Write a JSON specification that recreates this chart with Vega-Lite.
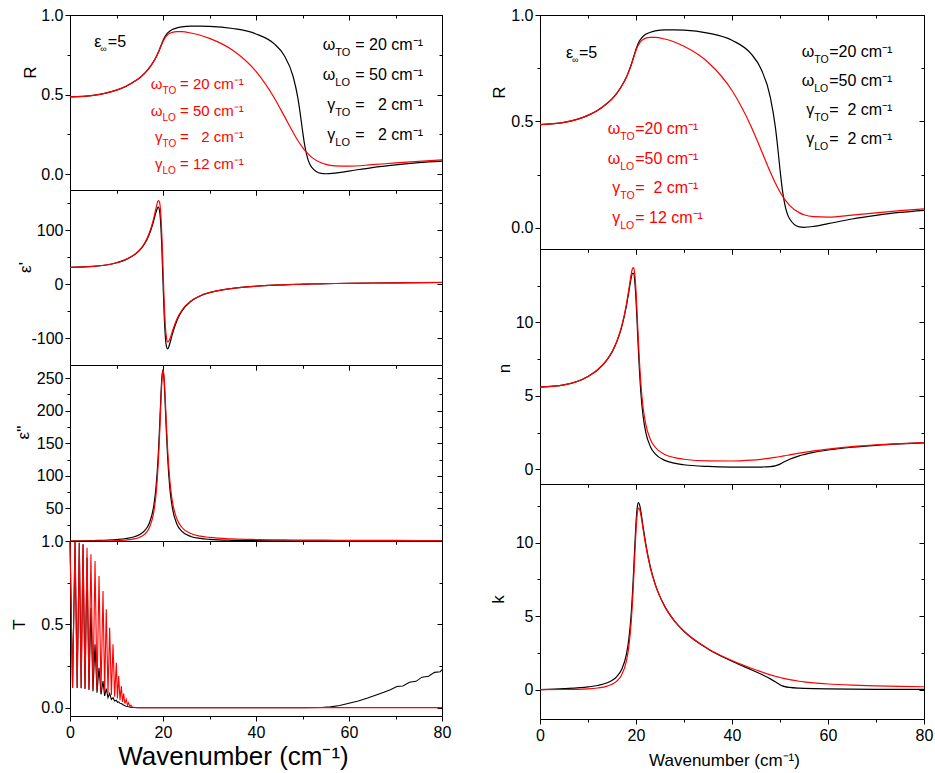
{
"$schema": "https://vega.github.io/schema/vega-lite/v6.json",
"background": "white",
"padding": {"left": 9, "top": 6, "right": 2, "bottom": 2},
"spacing": 36,
"config": {
 "view": {"stroke": "#000000", "strokeWidth": 1},
 "axis": {"grid": false, "domain": false, "labelFont": "Liberation Sans", "titleFont": "Liberation Sans", "labelFontSize": 16, "titleFontSize": 17, "titleFontWeight": "normal", "labelColor": "#000000", "titleColor": "#000000", "tickColor": "#000000", "tickWidth": 1, "labelOverlap": false, "labelFlush": false},
 "axisY": {"titleAngle": 270, "titleAlign": "center", "titleBaseline": "middle", "labelPadding": 2},
 "axisX": {"titleAlign": "center", "titleBaseline": "alphabetic", "labelPadding": 3}
},
"datasets": {
 "opt": [
  {"w":0,"s":"b","R":0.485,"e1":31.25,"e2":0,"n":5.59,"k":0},
  {"w":5,"s":"b","R":0.495,"e1":32.98,"e2":0.746,"n":5.743,"k":0.065},
  {"w":10,"s":"b","R":0.528,"e1":39.85,"e2":2.323,"n":6.313,"k":0.184},
  {"w":12,"s":"b","R":0.551,"e1":45.66,"e2":3.812,"n":6.757,"k":0.282},
  {"w":14,"s":"b","R":0.585,"e1":55.52,"e2":6.934,"n":7.466,"k":0.464},
  {"w":15,"s":"b","R":0.606,"e1":63.29,"e2":9.992,"n":7.98,"k":0.626},
  {"w":16,"s":"b","R":0.632,"e1":74.49,"e2":15.44,"n":8.676,"k":0.89},
  {"w":17,"s":"b","R":0.666,"e1":91.48,"e2":26.49,"n":9.662,"k":1.371},
  {"w":18,"s":"b","R":0.709,"e1":117.84,"e2":53.45,"n":11.12,"k":2.403},
  {"w":18.5,"s":"b","R":0.735,"e1":133.9,"e2":82.59,"n":12.07,"k":3.421},
  {"w":19,"s":"b","R":0.767,"e1":143.1,"e2":134.6,"n":13.03,"k":5.165},
  {"w":19.25,"s":"b","R":0.784,"e1":136.6,"e2":172.1,"n":13.35,"k":6.446},
  {"w":19.5,"s":"b","R":0.803,"e1":113.5,"e2":214.3,"n":13.34,"k":8.032},
  {"w":19.75,"s":"b","R":0.821,"e1":67.9,"e2":250.0,"n":12.79,"k":9.78},
  {"w":20,"s":"b","R":0.839,"e1":5,"e2":262.5,"n":11.57,"k":11.35},
  {"w":20.25,"s":"b","R":0.855,"e1":-55.67,"e2":244.2,"n":9.87,"k":12.37},
  {"w":20.5,"s":"b","R":0.868,"e1":-96.68,"e2":205.9,"n":8.088,"k":12.73},
  {"w":20.75,"s":"b","R":0.879,"e1":-115.8,"e2":164.0,"n":6.52,"k":12.58},
  {"w":21,"s":"b","R":0.887,"e1":-120.0,"e2":128.0,"n":5.268,"k":12.155},
  {"w":21.5,"s":"b","R":0.9,"e1":-109.2,"e2":78.88,"n":3.571,"k":11.04},
  {"w":22,"s":"b","R":0.909,"e1":-93.09,"e2":51.38,"n":2.573,"k":9.985},
  {"w":23,"s":"b","R":0.919,"e1":-67.21,"e2":25.75,"n":1.543,"k":8.342},
  {"w":24,"s":"b","R":0.925,"e1":-50.53,"e2":15.14,"n":1.053,"k":7.186},
  {"w":26,"s":"b","R":0.93,"e1":-31.74,"e2":6.922,"n":0.611,"k":5.667},
  {"w":28,"s":"b","R":0.93,"e1":-21.77,"e2":3.905,"n":0.417,"k":4.685},
  {"w":30,"s":"b","R":0.929,"e1":-15.7,"e2":2.484,"n":0.3125,"k":3.975},
  {"w":35,"s":"b","R":0.915,"e1":-7.636,"e2":1.072,"n":0.1935,"k":2.77},
  {"w":40,"s":"b","R":0.881,"e1":-3.711,"e2":0.581,"n":0.15,"k":1.932},
  {"w":44,"s":"b","R":0.817,"e1":-1.814,"e2":0.39,"n":0.144,"k":1.354},
  {"w":46,"s":"b","R":0.749,"e1":-1.101,"e2":0.327,"n":0.154,"k":1.061},
  {"w":48,"s":"b","R":0.612,"e1":-0.501,"e2":0.277,"n":0.189,"k":0.733},
  {"w":49,"s":"b","R":0.479,"e1":-0.235,"e2":0.256,"n":0.238,"k":0.54},
  {"w":49.5,"s":"b","R":0.383,"e1":-0.109,"e2":0.247,"n":0.283,"k":0.436},
  {"w":50,"s":"b","R":0.274,"e1":0.011,"e2":0.238,"n":0.353,"k":0.337},
  {"w":50.5,"s":"b","R":0.177,"e1":0.128,"e2":0.229,"n":0.441,"k":0.259},
  {"w":51,"s":"b","R":0.11,"e1":0.24,"e2":0.221,"n":0.532,"k":0.207},
  {"w":52,"s":"b","R":0.042,"e1":0.452,"e2":0.205,"n":0.689,"k":0.149},
  {"w":54,"s":"b","R":0.004,"e1":0.834,"e2":0.179,"n":0.919,"k":0.097},
  {"w":55,"s":"b","R":0.002,"e1":1.007,"e2":0.167,"n":1.004,"k":0.083},
  {"w":57,"s":"b","R":0.006,"e1":1.32,"e2":0.147,"n":1.151,"k":0.064},
  {"w":60,"s":"b","R":0.019,"e1":1.723,"e2":0.123,"n":1.314,"k":0.047},
  {"w":65,"s":"b","R":0.041,"e1":2.258,"e2":0.093,"n":1.503,"k":0.031},
  {"w":70,"s":"b","R":0.058,"e1":2.669,"e2":0.073,"n":1.634,"k":0.022},
  {"w":75,"s":"b","R":0.072,"e1":2.992,"e2":0.058,"n":1.73,"k":0.017},
  {"w":80,"s":"b","R":0.082,"e1":3.251,"e2":0.047,"n":1.803,"k":0.013},
  {"w":0,"s":"r","R":0.485,"e1":31.25,"e2":0,"n":5.59,"k":0},
  {"w":5,"s":"r","R":0.495,"e1":33.0,"e2":0.08,"n":5.745,"k":0.007},
  {"w":10,"s":"r","R":0.528,"e1":39.96,"e2":0.664,"n":6.321,"k":0.053},
  {"w":12,"s":"r","R":0.552,"e1":45.88,"e2":1.488,"n":6.774,"k":0.11},
  {"w":14,"s":"r","R":0.585,"e1":55.98,"e2":3.566,"n":7.486,"k":0.238},
  {"w":15,"s":"r","R":0.606,"e1":64.0,"e2":5.829,"n":8.008,"k":0.364},
  {"w":16,"s":"r","R":0.632,"e1":75.66,"e2":10.15,"n":8.718,"k":0.582},
  {"w":17,"s":"r","R":0.665,"e1":93.63,"e2":19.49,"n":9.728,"k":1.002},
  {"w":18,"s":"r","R":0.707,"e1":122.42,"e2":43.78,"n":11.234,"k":1.948},
  {"w":18.5,"s":"r","R":0.734,"e1":141.18,"e2":71.23,"n":12.23,"k":2.911},
  {"w":19,"s":"r","R":0.764,"e1":155.3,"e2":122.1,"n":13.28,"k":4.597},
  {"w":19.25,"s":"r","R":0.781,"e1":152.4,"e2":160.0,"n":13.66,"k":5.857},
  {"w":19.5,"s":"r","R":0.799,"e1":133.4,"e2":204.2,"n":13.735,"k":7.434},
  {"w":19.75,"s":"r","R":0.816,"e1":91.4,"e2":244.1,"n":13.27,"k":9.2},
  {"w":20,"s":"r","R":0.833,"e1":30,"e2":262.5,"n":12.13,"k":10.82},
  {"w":20.25,"s":"r","R":0.847,"e1":-32.12,"e2":250.0,"n":10.49,"k":11.92},
  {"w":20.5,"s":"r","R":0.859,"e1":-76.58,"e2":215.8,"n":8.73,"k":12.36},
  {"w":20.75,"s":"r","R":0.868,"e1":-99.6,"e2":176.0,"n":7.16,"k":12.28},
  {"w":21,"s":"r","R":0.876,"e1":-107.2,"e2":140.5,"n":5.895,"k":11.914},
  {"w":21.5,"s":"r","R":0.885,"e1":-101.1,"e2":90.57,"n":4.159,"k":10.88},
  {"w":22,"s":"r","R":0.891,"e1":-87.7,"e2":61.65,"n":3.122,"k":9.872},
  {"w":23,"s":"r","R":0.895,"e1":-64.39,"e2":33.66,"n":2.033,"k":8.278},
  {"w":24,"s":"r","R":0.895,"e1":-48.8,"e2":21.49,"n":1.503,"k":7.146},
  {"w":26,"s":"r","R":0.887,"e1":-30.88,"e2":11.47,"n":1.015,"k":5.649},
  {"w":28,"s":"r","R":0.873,"e1":-21.25,"e2":7.475,"n":0.799,"k":4.679},
  {"w":30,"s":"r","R":0.853,"e1":-15.35,"e2":5.442,"n":0.684,"k":3.977},
  {"w":35,"s":"r","R":0.778,"e1":-7.458,"e2":3.178,"n":0.5695,"k":2.79},
  {"w":40,"s":"r","R":0.645,"e1":-3.601,"e2":2.24,"n":0.566,"k":1.98},
  {"w":44,"s":"r","R":0.475,"e1":-1.732,"e2":1.818,"n":0.624,"k":1.457},
  {"w":46,"s":"r","R":0.369,"e1":-1.03,"e2":1.664,"n":0.681,"k":1.222},
  {"w":48,"s":"r","R":0.261,"e1":-0.437,"e2":1.535,"n":0.761,"k":1.008},
  {"w":49,"s":"r","R":0.211,"e1":-0.175,"e2":1.478,"n":0.81,"k":0.912},
  {"w":49.5,"s":"r","R":0.189,"e1":-0.051,"e2":1.451,"n":0.837,"k":0.867},
  {"w":50,"s":"r","R":0.168,"e1":0.068,"e2":1.425,"n":0.865,"k":0.824},
  {"w":50.5,"s":"r","R":0.149,"e1":0.183,"e2":1.401,"n":0.893,"k":0.784},
  {"w":51,"s":"r","R":0.133,"e1":0.293,"e2":1.377,"n":0.922,"k":0.746},
  {"w":52,"s":"r","R":0.105,"e1":0.503,"e2":1.332,"n":0.981,"k":0.678},
  {"w":54,"s":"r","R":0.071,"e1":0.88,"e2":1.25,"n":1.098,"k":0.569},
  {"w":55,"s":"r","R":0.061,"e1":1.051,"e2":1.213,"n":1.152,"k":0.526},
  {"w":57,"s":"r","R":0.052,"e1":1.36,"e2":1.146,"n":1.253,"k":0.457},
  {"w":60,"s":"r","R":0.05,"e1":1.758,"e2":1.059,"n":1.38,"k":0.384},
  {"w":65,"s":"r","R":0.059,"e1":2.287,"e2":0.942,"n":1.543,"k":0.305},
  {"w":70,"s":"r","R":0.07,"e1":2.693,"e2":0.85,"n":1.661,"k":0.256},
  {"w":75,"s":"r","R":0.08,"e1":3.013,"e2":0.775,"n":1.75,"k":0.221},
  {"w":80,"s":"r","R":0.089,"e1":3.269,"e2":0.713,"n":1.819,"k":0.196}
 ],
 "trans": [
  {"w":0,"s":"b","T":1.0},{"w":0.55,"s":"b","T":0.119},{"w":1.08,"s":"b","T":0.995},{"w":1.54,"s":"b","T":0.118},
  {"w":2.0,"s":"b","T":0.99},{"w":2.4,"s":"b","T":0.116},{"w":2.8,"s":"b","T":0.98},{"w":3.23,"s":"b","T":0.112},
  {"w":3.66,"s":"b","T":0.9},{"w":4.08,"s":"b","T":0.106},{"w":4.5,"s":"b","T":0.6},{"w":4.94,"s":"b","T":0.099},
  {"w":5.38,"s":"b","T":0.38},{"w":5.81,"s":"b","T":0.09},{"w":6.24,"s":"b","T":0.24},{"w":6.67,"s":"b","T":0.08},
  {"w":7.1,"s":"b","T":0.16},{"w":7.45,"s":"b","T":0.07},{"w":7.8,"s":"b","T":0.115},{"w":8.17,"s":"b","T":0.06},
  {"w":8.53,"s":"b","T":0.085},{"w":8.9,"s":"b","T":0.05},{"w":9.25,"s":"b","T":0.06},{"w":9.6,"s":"b","T":0.04},
  {"w":9.96,"s":"b","T":0.045},{"w":10.2,"s":"b","T":0.032},{"w":10.47,"s":"b","T":0.035},{"w":10.75,"s":"b","T":0.026},
  {"w":11.04,"s":"b","T":0.025},{"w":11.3,"s":"b","T":0.019},{"w":11.54,"s":"b","T":0.016},{"w":11.8,"s":"b","T":0.012},
  {"w":12.1,"s":"b","T":0.009},{"w":12.35,"s":"b","T":0.007},{"w":12.6,"s":"b","T":0.005},{"w":13.0,"s":"b","T":0.003},
  {"w":13.5,"s":"b","T":0.001},{"w":14.5,"s":"b","T":0},{"w":30,"s":"b","T":0},{"w":50,"s":"b","T":0},
  {"w":54,"s":"b","T":0.001},{"w":56,"s":"b","T":0.005},{"w":58,"s":"b","T":0.013},{"w":60,"s":"b","T":0.026},
  {"w":62,"s":"b","T":0.04},{"w":64,"s":"b","T":0.058},{"w":66,"s":"b","T":0.078},{"w":67.5,"s":"b","T":0.092},
  {"w":68.9,"s":"b","T":0.108},{"w":70.3,"s":"b","T":0.127},{"w":71.6,"s":"b","T":0.13},{"w":73.0,"s":"b","T":0.153},
  {"w":74.4,"s":"b","T":0.158},{"w":75.7,"s":"b","T":0.183},{"w":77.1,"s":"b","T":0.188},{"w":78.4,"s":"b","T":0.212},
  {"w":79.6,"s":"b","T":0.215},{"w":80,"s":"b","T":0.228},
  {"w":0,"s":"r","T":1.0},{"w":0.55,"s":"r","T":0.12},{"w":1.08,"s":"r","T":0.995},{"w":1.54,"s":"r","T":0.12},
  {"w":2.0,"s":"r","T":0.99},{"w":2.4,"s":"r","T":0.118},{"w":2.8,"s":"r","T":0.98},{"w":3.23,"s":"r","T":0.116},
  {"w":3.66,"s":"r","T":0.96},{"w":4.08,"s":"r","T":0.113},{"w":4.5,"s":"r","T":0.92},{"w":4.94,"s":"r","T":0.11},
  {"w":5.38,"s":"r","T":0.88},{"w":5.81,"s":"r","T":0.105},{"w":6.24,"s":"r","T":0.79},{"w":6.67,"s":"r","T":0.1},
  {"w":7.1,"s":"r","T":0.7},{"w":7.45,"s":"r","T":0.093},{"w":7.8,"s":"r","T":0.59},{"w":8.17,"s":"r","T":0.085},
  {"w":8.53,"s":"r","T":0.48},{"w":8.9,"s":"r","T":0.076},{"w":9.25,"s":"r","T":0.38},{"w":9.6,"s":"r","T":0.066},
  {"w":9.96,"s":"r","T":0.27},{"w":10.2,"s":"r","T":0.055},{"w":10.47,"s":"r","T":0.19},{"w":10.75,"s":"r","T":0.045},
  {"w":11.04,"s":"r","T":0.13},{"w":11.3,"s":"r","T":0.034},{"w":11.54,"s":"r","T":0.085},{"w":11.8,"s":"r","T":0.024},
  {"w":12.1,"s":"r","T":0.05},{"w":12.35,"s":"r","T":0.015},{"w":12.6,"s":"r","T":0.03},{"w":12.85,"s":"r","T":0.008},
  {"w":13.1,"s":"r","T":0.015},{"w":13.4,"s":"r","T":0.004},{"w":14,"s":"r","T":0.001},{"w":15,"s":"r","T":0},
  {"w":30,"s":"r","T":0},{"w":50,"s":"r","T":0},{"w":80,"s":"r","T":0}
 ],
 "annLb": [
  {"w":54.69,"v":0.78,"sym":"ω","sub":"TO","rest":"= 20 cm⁻¹"},
  {"w":54.69,"v":0.591,"sym":"ω","sub":"LO","rest":"= 50 cm⁻¹"},
  {"w":54.69,"v":0.403,"sym":"γ","sub":"TO","rest":"= \u20072 cm⁻¹"},
  {"w":54.69,"v":0.214,"sym":"γ","sub":"LO","rest":"= \u20072 cm⁻¹"}
 ],
 "annLr": [
  {"w":17.63,"v":0.533,"sym":"ω","sub":"TO","rest":"= 20 cm⁻¹"},
  {"w":17.63,"v":0.367,"sym":"ω","sub":"LO","rest":"= 50 cm⁻¹"},
  {"w":17.63,"v":0.204,"sym":"γ","sub":"TO","rest":"= \u20072 cm⁻¹"},
  {"w":17.63,"v":0.03,"sym":"γ","sub":"LO","rest":"= 12 cm⁻¹"}
 ],
 "annLe": [{"w":5.23,"v":0.801,"sym":"ε","sub":"∞","rest":"=5"}],
 "annR": [
  {"w":54.73,"v":0.801,"s":"b","sym":"ω","sub":"TO","rest":"=20 cm⁻¹"},
  {"w":54.73,"v":0.666,"s":"b","sym":"ω","sub":"LO","rest":"=50 cm⁻¹"},
  {"w":54.73,"v":0.53,"s":"b","sym":"γ","sub":"TO","rest":"=\u20072 cm⁻¹"},
  {"w":54.73,"v":0.394,"s":"b","sym":"γ","sub":"LO","rest":"=\u20072 cm⁻¹"},
  {"w":14.31,"v":0.441,"s":"r","sym":"ω","sub":"TO","rest":"=20 cm⁻¹"},
  {"w":14.31,"v":0.3,"s":"r","sym":"ω","sub":"LO","rest":"=50 cm⁻¹"},
  {"w":14.31,"v":0.162,"s":"r","sym":"γ","sub":"TO","rest":"=\u20072 cm⁻¹"},
  {"w":14.31,"v":0.021,"s":"r","sym":"γ","sub":"LO","rest":"= 12 cm⁻¹"}
 ],
 "annRe": [{"w":5.42,"v":0.796,"sym":"ε","sub":"∞","rest":"=5"}]
},
"hconcat": [
 {"vconcat": [
  {"width": 372, "height": 175,
   "resolve": {"axis": {"x": "independent", "y": "independent"}},
   "layer": [
    {"data": {"name": "opt"}, "transform": [{"filter": "datum.s == 'b'"}],
     "mark": {"type": "line", "color": "#000000", "strokeWidth": 1.2, "interpolate": "monotone"},
     "encoding": {
      "x": {"field": "w", "type": "quantitative", "scale": {"domain": [0, 80], "nice": false, "zero": false}, "axis": {"orient": "bottom", "values": [0, 20, 40, 60, 80], "tickSize": 5, "labels": false, "title": null}},
      "y": {"field": "R", "type": "quantitative", "scale": {"domain": [-0.1, 1], "nice": false, "zero": false}, "axis": {"orient": "left", "values": [0, 0.5, 1], "format": ".1f", "tickSize": 5, "title": "R", "titleX": -40, "titleY": 57}}}},
    {"data": {"name": "opt"}, "transform": [{"filter": "datum.s == 'r'"}],
     "mark": {"type": "line", "color": "#ff0000", "strokeWidth": 1.2, "interpolate": "monotone"},
     "encoding": {
      "x": {"field": "w", "type": "quantitative", "scale": {"domain": [0, 80], "nice": false, "zero": false}, "axis": {"orient": "bottom", "values": [10, 30, 50, 70], "tickSize": 3, "labels": false, "title": null}},
      "y": {"field": "R", "type": "quantitative", "scale": {"domain": [-0.1, 1], "nice": false, "zero": false}, "axis": {"orient": "left", "values": [0.25, 0.75], "tickSize": 3, "labels": false, "title": null}}}},
    {"data": {"name": "opt"}, "transform": [{"filter": "datum.s == 'b'"}],
     "mark": {"type": "line", "opacity": 0},
     "encoding": {
      "x": {"field": "w", "type": "quantitative", "scale": {"domain": [0, 80], "nice": false, "zero": false}, "axis": {"orient": "top", "values": [0, 20, 40, 60, 80], "tickSize": -5, "labels": false, "title": null}},
      "y": {"field": "R", "type": "quantitative", "scale": {"domain": [-0.1, 1], "nice": false, "zero": false}, "axis": {"orient": "right", "values": [0, 0.5, 1], "tickSize": -5, "labels": false, "title": null}}}},
    {"data": {"name": "opt"}, "transform": [{"filter": "datum.s == 'b'"}],
     "mark": {"type": "line", "opacity": 0},
     "encoding": {
      "x": {"field": "w", "type": "quantitative", "scale": {"domain": [0, 80], "nice": false, "zero": false}, "axis": {"orient": "top", "values": [10, 30, 50, 70], "tickSize": -3, "labels": false, "title": null}},
      "y": {"field": "R", "type": "quantitative", "scale": {"domain": [-0.1, 1], "nice": false, "zero": false}, "axis": {"orient": "right", "values": [0.25, 0.75], "tickSize": -3, "labels": false, "title": null}}}},
    {"data": {"name": "annLb"},
     "mark": {"type": "text", "align": "right", "baseline": "alphabetic", "font": "Liberation Sans", "fontSize": 16, "dx": 11, "color": "#000000"},
     "encoding": {"x": {"field": "w", "type": "quantitative", "scale": {"domain": [0, 80], "nice": false, "zero": false}, "axis": null}, "y": {"field": "v", "type": "quantitative", "scale": {"domain": [-0.1, 1], "nice": false, "zero": false}, "axis": null}, "text": {"field": "sym"}}},
    {"data": {"name": "annLb"},
     "mark": {"type": "text", "align": "left", "baseline": "alphabetic", "font": "Liberation Sans", "fontSize": 11, "dx": 11, "dy": 6, "color": "#000000"},
     "encoding": {"x": {"field": "w", "type": "quantitative", "scale": {"domain": [0, 80], "nice": false, "zero": false}, "axis": null}, "y": {"field": "v", "type": "quantitative", "scale": {"domain": [-0.1, 1], "nice": false, "zero": false}, "axis": null}, "text": {"field": "sub"}}},
    {"data": {"name": "annLb"},
     "mark": {"type": "text", "align": "left", "baseline": "alphabetic", "font": "Liberation Sans", "fontSize": 16, "dx": 31, "color": "#000000"},
     "encoding": {"x": {"field": "w", "type": "quantitative", "scale": {"domain": [0, 80], "nice": false, "zero": false}, "axis": null}, "y": {"field": "v", "type": "quantitative", "scale": {"domain": [-0.1, 1], "nice": false, "zero": false}, "axis": null}, "text": {"field": "rest"}}},
    {"data": {"name": "annLr"},
     "mark": {"type": "text", "align": "right", "baseline": "alphabetic", "font": "Liberation Sans", "fontSize": 15, "dx": 10.5, "color": "#ff0000"},
     "encoding": {"x": {"field": "w", "type": "quantitative", "scale": {"domain": [0, 80], "nice": false, "zero": false}, "axis": null}, "y": {"field": "v", "type": "quantitative", "scale": {"domain": [-0.1, 1], "nice": false, "zero": false}, "axis": null}, "text": {"field": "sym"}}},
    {"data": {"name": "annLr"},
     "mark": {"type": "text", "align": "left", "baseline": "alphabetic", "font": "Liberation Sans", "fontSize": 10, "dx": 10.5, "dy": 5, "color": "#ff0000"},
     "encoding": {"x": {"field": "w", "type": "quantitative", "scale": {"domain": [0, 80], "nice": false, "zero": false}, "axis": null}, "y": {"field": "v", "type": "quantitative", "scale": {"domain": [-0.1, 1], "nice": false, "zero": false}, "axis": null}, "text": {"field": "sub"}}},
    {"data": {"name": "annLr"},
     "mark": {"type": "text", "align": "left", "baseline": "alphabetic", "font": "Liberation Sans", "fontSize": 15, "dx": 28, "color": "#ff0000"},
     "encoding": {"x": {"field": "w", "type": "quantitative", "scale": {"domain": [0, 80], "nice": false, "zero": false}, "axis": null}, "y": {"field": "v", "type": "quantitative", "scale": {"domain": [-0.1, 1], "nice": false, "zero": false}, "axis": null}, "text": {"field": "rest"}}},
    {"data": {"name": "annLe"},
     "mark": {"type": "text", "align": "left", "baseline": "alphabetic", "font": "Liberation Sans", "fontSize": 16, "color": "#000000"},
     "encoding": {"x": {"field": "w", "type": "quantitative", "scale": {"domain": [0, 80], "nice": false, "zero": false}, "axis": null}, "y": {"field": "v", "type": "quantitative", "scale": {"domain": [-0.1, 1], "nice": false, "zero": false}, "axis": null}, "text": {"field": "sym"}}},
    {"data": {"name": "annLe"},
     "mark": {"type": "text", "align": "left", "baseline": "alphabetic", "font": "Liberation Sans", "fontSize": 9, "dx": 6, "dy": 5, "color": "#000000"},
     "encoding": {"x": {"field": "w", "type": "quantitative", "scale": {"domain": [0, 80], "nice": false, "zero": false}, "axis": null}, "y": {"field": "v", "type": "quantitative", "scale": {"domain": [-0.1, 1], "nice": false, "zero": false}, "axis": null}, "text": {"field": "sub"}}},
    {"data": {"name": "annLe"},
     "mark": {"type": "text", "align": "left", "baseline": "alphabetic", "font": "Liberation Sans", "fontSize": 16, "dx": 13.5, "color": "#000000"},
     "encoding": {"x": {"field": "w", "type": "quantitative", "scale": {"domain": [0, 80], "nice": false, "zero": false}, "axis": null}, "y": {"field": "v", "type": "quantitative", "scale": {"domain": [-0.1, 1], "nice": false, "zero": false}, "axis": null}, "text": {"field": "rest"}}}
   ]},
  {"width": 372, "height": 175,
   "resolve": {"axis": {"x": "independent", "y": "independent"}},
   "layer": [
    {"data": {"name": "opt"}, "transform": [{"filter": "datum.s == 'b'"}],
     "mark": {"type": "line", "color": "#000000", "strokeWidth": 1.2, "interpolate": "monotone"},
     "encoding": {
      "x": {"field": "w", "type": "quantitative", "scale": {"domain": [0, 80], "nice": false, "zero": false}, "axis": {"orient": "bottom", "values": [0, 20, 40, 60, 80], "tickSize": 5, "labels": false, "title": null}},
      "y": {"field": "e1", "type": "quantitative", "scale": {"domain": [-150, 175], "nice": false, "zero": false}, "axis": {"orient": "left", "values": [-100, 0, 100], "labelExpr": "replace(datum.label, '\u2212', '-')", "tickSize": 5, "title": "ε'", "titleX": -45, "titleY": 77}}}},
    {"data": {"name": "opt"}, "transform": [{"filter": "datum.s == 'r'"}],
     "mark": {"type": "line", "color": "#ff0000", "strokeWidth": 1.2, "interpolate": "monotone"},
     "encoding": {
      "x": {"field": "w", "type": "quantitative", "scale": {"domain": [0, 80], "nice": false, "zero": false}, "axis": {"orient": "bottom", "values": [10, 30, 50, 70], "tickSize": 3, "labels": false, "title": null}},
      "y": {"field": "e1", "type": "quantitative", "scale": {"domain": [-150, 175], "nice": false, "zero": false}, "axis": {"orient": "left", "values": [-50, 50, 150], "tickSize": 3, "labels": false, "title": null}}}},
    {"data": {"name": "opt"}, "transform": [{"filter": "datum.s == 'b'"}],
     "mark": {"type": "line", "opacity": 0},
     "encoding": {
      "x": {"field": "w", "type": "quantitative", "scale": {"domain": [0, 80], "nice": false, "zero": false}, "axis": {"orient": "top", "values": [0, 20, 40, 60, 80], "tickSize": -5, "labels": false, "title": null}},
      "y": {"field": "e1", "type": "quantitative", "scale": {"domain": [-150, 175], "nice": false, "zero": false}, "axis": {"orient": "right", "values": [-100, 0, 100], "tickSize": -5, "labels": false, "title": null}}}},
    {"data": {"name": "opt"}, "transform": [{"filter": "datum.s == 'b'"}],
     "mark": {"type": "line", "opacity": 0},
     "encoding": {
      "x": {"field": "w", "type": "quantitative", "scale": {"domain": [0, 80], "nice": false, "zero": false}, "axis": {"orient": "top", "values": [10, 30, 50, 70], "tickSize": -3, "labels": false, "title": null}},
      "y": {"field": "e1", "type": "quantitative", "scale": {"domain": [-150, 175], "nice": false, "zero": false}, "axis": {"orient": "right", "values": [-50, 50, 150], "tickSize": -3, "labels": false, "title": null}}}}
   ]},
  {"width": 372, "height": 176,
   "resolve": {"axis": {"x": "independent", "y": "independent"}},
   "layer": [
    {"data": {"name": "opt"}, "transform": [{"filter": "datum.s == 'b'"}],
     "mark": {"type": "line", "color": "#000000", "strokeWidth": 1.2, "interpolate": "monotone"},
     "encoding": {
      "x": {"field": "w", "type": "quantitative", "scale": {"domain": [0, 80], "nice": false, "zero": false}, "axis": {"orient": "bottom", "values": [0, 20, 40, 60, 80], "tickSize": 5, "labels": false, "title": null}},
      "y": {"field": "e2", "type": "quantitative", "scale": {"domain": [0, 270], "nice": false, "zero": false}, "axis": {"orient": "left", "values": [50, 100, 150, 200, 250], "tickSize": 5, "title": "ε''", "titleX": -47, "titleY": 67}}}},
    {"data": {"name": "opt"}, "transform": [{"filter": "datum.s == 'r'"}],
     "mark": {"type": "line", "color": "#ff0000", "strokeWidth": 1.2, "interpolate": "monotone"},
     "encoding": {
      "x": {"field": "w", "type": "quantitative", "scale": {"domain": [0, 80], "nice": false, "zero": false}, "axis": {"orient": "bottom", "values": [10, 30, 50, 70], "tickSize": 3, "labels": false, "title": null}},
      "y": {"field": "e2", "type": "quantitative", "scale": {"domain": [0, 270], "nice": false, "zero": false}, "axis": {"orient": "left", "values": [25, 75, 125, 175, 225], "tickSize": 3, "labels": false, "title": null}}}},
    {"data": {"name": "opt"}, "transform": [{"filter": "datum.s == 'b'"}],
     "mark": {"type": "line", "opacity": 0},
     "encoding": {
      "x": {"field": "w", "type": "quantitative", "scale": {"domain": [0, 80], "nice": false, "zero": false}, "axis": {"orient": "top", "values": [0, 20, 40, 60, 80], "tickSize": -5, "labels": false, "title": null}},
      "y": {"field": "e2", "type": "quantitative", "scale": {"domain": [0, 270], "nice": false, "zero": false}, "axis": {"orient": "right", "values": [50, 100, 150, 200, 250], "tickSize": -5, "labels": false, "title": null}}}},
    {"data": {"name": "opt"}, "transform": [{"filter": "datum.s == 'b'"}],
     "mark": {"type": "line", "opacity": 0},
     "encoding": {
      "x": {"field": "w", "type": "quantitative", "scale": {"domain": [0, 80], "nice": false, "zero": false}, "axis": {"orient": "top", "values": [10, 30, 50, 70], "tickSize": -3, "labels": false, "title": null}},
      "y": {"field": "e2", "type": "quantitative", "scale": {"domain": [0, 270], "nice": false, "zero": false}, "axis": {"orient": "right", "values": [25, 75, 125, 175, 225], "tickSize": -3, "labels": false, "title": null}}}}
   ]},
  {"width": 372, "height": 175,
   "resolve": {"axis": {"x": "independent", "y": "independent"}},
   "layer": [
    {"data": {"name": "trans"}, "transform": [{"filter": "datum.s == 'b'"}],
     "mark": {"type": "line", "color": "#000000", "strokeWidth": 1.1},
     "encoding": {
      "x": {"field": "w", "type": "quantitative", "scale": {"domain": [0, 80], "nice": false, "zero": false}, "axis": {"orient": "bottom", "values": [0, 20, 40, 60, 80], "tickSize": 5, "labels": true, "title": "Wavenumber (cm⁻¹)", "titleFontSize": 26, "titleX": 163, "titleY": 48}},
      "y": {"field": "T", "type": "quantitative", "scale": {"domain": [-0.05, 1], "nice": false, "zero": false}, "axis": {"orient": "left", "values": [0, 0.5, 1], "format": ".1f", "tickSize": 5, "title": "T", "titleX": -51, "titleY": 83}}}},
    {"data": {"name": "trans"}, "transform": [{"filter": "datum.s == 'r'"}],
     "mark": {"type": "line", "color": "#ff0000", "strokeWidth": 1.1},
     "encoding": {
      "x": {"field": "w", "type": "quantitative", "scale": {"domain": [0, 80], "nice": false, "zero": false}, "axis": {"orient": "bottom", "values": [10, 30, 50, 70], "tickSize": 3, "labels": false, "title": null}},
      "y": {"field": "T", "type": "quantitative", "scale": {"domain": [-0.05, 1], "nice": false, "zero": false}, "axis": {"orient": "left", "values": [0.25, 0.75], "tickSize": 3, "labels": false, "title": null}}}},
    {"data": {"name": "trans"}, "transform": [{"filter": "datum.s == 'b'"}],
     "mark": {"type": "line", "opacity": 0},
     "encoding": {
      "x": {"field": "w", "type": "quantitative", "scale": {"domain": [0, 80], "nice": false, "zero": false}, "axis": {"orient": "top", "values": [0, 20, 40, 60, 80], "tickSize": -5, "labels": false, "title": null}},
      "y": {"field": "T", "type": "quantitative", "scale": {"domain": [-0.05, 1], "nice": false, "zero": false}, "axis": {"orient": "right", "values": [0, 0.5, 1], "tickSize": -5, "labels": false, "title": null}}}},
    {"data": {"name": "trans"}, "transform": [{"filter": "datum.s == 'b'"}],
     "mark": {"type": "line", "opacity": 0},
     "encoding": {
      "x": {"field": "w", "type": "quantitative", "scale": {"domain": [0, 80], "nice": false, "zero": false}, "axis": {"orient": "top", "values": [10, 30, 50, 70], "tickSize": -3, "labels": false, "title": null}},
      "y": {"field": "T", "type": "quantitative", "scale": {"domain": [-0.05, 1], "nice": false, "zero": false}, "axis": {"orient": "right", "values": [0.25, 0.75], "tickSize": -3, "labels": false, "title": null}}}}
   ]}
 ], "spacing": 0, "bounds": "flush"},
 {"vconcat": [
  {"width": 384, "height": 234,
   "resolve": {"axis": {"x": "independent", "y": "independent"}},
   "layer": [
    {"data": {"name": "opt"}, "transform": [{"filter": "datum.s == 'b'"}],
     "mark": {"type": "line", "color": "#000000", "strokeWidth": 1.2, "interpolate": "monotone"},
     "encoding": {
      "x": {"field": "w", "type": "quantitative", "scale": {"domain": [0, 80], "nice": false, "zero": false}, "axis": {"orient": "bottom", "values": [0, 20, 40, 60, 80], "tickSize": 5, "labels": false, "title": null}},
      "y": {"field": "R", "type": "quantitative", "scale": {"domain": [-0.1, 1], "nice": false, "zero": false}, "axis": {"orient": "left", "values": [0, 0.5, 1], "format": ".1f", "tickSize": 5, "title": "R", "titleX": -41, "titleY": 77}}}},
    {"data": {"name": "opt"}, "transform": [{"filter": "datum.s == 'r'"}],
     "mark": {"type": "line", "color": "#ff0000", "strokeWidth": 1.2, "interpolate": "monotone"},
     "encoding": {
      "x": {"field": "w", "type": "quantitative", "scale": {"domain": [0, 80], "nice": false, "zero": false}, "axis": {"orient": "bottom", "values": [10, 30, 50, 70], "tickSize": 3, "labels": false, "title": null}},
      "y": {"field": "R", "type": "quantitative", "scale": {"domain": [-0.1, 1], "nice": false, "zero": false}, "axis": {"orient": "left", "values": [0.25, 0.75], "tickSize": 3, "labels": false, "title": null}}}},
    {"data": {"name": "opt"}, "transform": [{"filter": "datum.s == 'b'"}],
     "mark": {"type": "line", "opacity": 0},
     "encoding": {
      "x": {"field": "w", "type": "quantitative", "scale": {"domain": [0, 80], "nice": false, "zero": false}, "axis": {"orient": "top", "values": [0, 20, 40, 60, 80], "tickSize": -5, "labels": false, "title": null}},
      "y": {"field": "R", "type": "quantitative", "scale": {"domain": [-0.1, 1], "nice": false, "zero": false}, "axis": {"orient": "right", "values": [0, 0.5, 1], "tickSize": -5, "labels": false, "title": null}}}},
    {"data": {"name": "opt"}, "transform": [{"filter": "datum.s == 'b'"}],
     "mark": {"type": "line", "opacity": 0},
     "encoding": {
      "x": {"field": "w", "type": "quantitative", "scale": {"domain": [0, 80], "nice": false, "zero": false}, "axis": {"orient": "top", "values": [10, 30, 50, 70], "tickSize": -3, "labels": false, "title": null}},
      "y": {"field": "R", "type": "quantitative", "scale": {"domain": [-0.1, 1], "nice": false, "zero": false}, "axis": {"orient": "right", "values": [0.25, 0.75], "tickSize": -3, "labels": false, "title": null}}}},
    {"data": {"name": "annR"},
     "mark": {"type": "text", "align": "right", "baseline": "alphabetic", "font": "Liberation Sans", "fontSize": 16, "dx": 11.5},
     "encoding": {"x": {"field": "w", "type": "quantitative", "scale": {"domain": [0, 80], "nice": false, "zero": false}, "axis": null}, "y": {"field": "v", "type": "quantitative", "scale": {"domain": [-0.1, 1], "nice": false, "zero": false}, "axis": null}, "text": {"field": "sym"}, "color": {"field": "s", "type": "nominal", "scale": {"domain": ["b", "r"], "range": ["#000000", "#ff0000"]}, "legend": null}}},
    {"data": {"name": "annR"},
     "mark": {"type": "text", "align": "left", "baseline": "alphabetic", "font": "Liberation Sans", "fontSize": 10.5, "dx": 11.5, "dy": 6},
     "encoding": {"x": {"field": "w", "type": "quantitative", "scale": {"domain": [0, 80], "nice": false, "zero": false}, "axis": null}, "y": {"field": "v", "type": "quantitative", "scale": {"domain": [-0.1, 1], "nice": false, "zero": false}, "axis": null}, "text": {"field": "sub"}, "color": {"field": "s", "type": "nominal", "scale": {"domain": ["b", "r"], "range": ["#000000", "#ff0000"]}, "legend": null}}},
    {"data": {"name": "annR"},
     "mark": {"type": "text", "align": "left", "baseline": "alphabetic", "font": "Liberation Sans", "fontSize": 16, "dx": 26.5},
     "encoding": {"x": {"field": "w", "type": "quantitative", "scale": {"domain": [0, 80], "nice": false, "zero": false}, "axis": null}, "y": {"field": "v", "type": "quantitative", "scale": {"domain": [-0.1, 1], "nice": false, "zero": false}, "axis": null}, "text": {"field": "rest"}, "color": {"field": "s", "type": "nominal", "scale": {"domain": ["b", "r"], "range": ["#000000", "#ff0000"]}, "legend": null}}},
    {"data": {"name": "annRe"},
     "mark": {"type": "text", "align": "left", "baseline": "alphabetic", "font": "Liberation Sans", "fontSize": 16, "color": "#000000"},
     "encoding": {"x": {"field": "w", "type": "quantitative", "scale": {"domain": [0, 80], "nice": false, "zero": false}, "axis": null}, "y": {"field": "v", "type": "quantitative", "scale": {"domain": [-0.1, 1], "nice": false, "zero": false}, "axis": null}, "text": {"field": "sym"}}},
    {"data": {"name": "annRe"},
     "mark": {"type": "text", "align": "left", "baseline": "alphabetic", "font": "Liberation Sans", "fontSize": 9, "dx": 6, "dy": 5, "color": "#000000"},
     "encoding": {"x": {"field": "w", "type": "quantitative", "scale": {"domain": [0, 80], "nice": false, "zero": false}, "axis": null}, "y": {"field": "v", "type": "quantitative", "scale": {"domain": [-0.1, 1], "nice": false, "zero": false}, "axis": null}, "text": {"field": "sub"}}},
    {"data": {"name": "annRe"},
     "mark": {"type": "text", "align": "left", "baseline": "alphabetic", "font": "Liberation Sans", "fontSize": 16, "dx": 13, "color": "#000000"},
     "encoding": {"x": {"field": "w", "type": "quantitative", "scale": {"domain": [0, 80], "nice": false, "zero": false}, "axis": null}, "y": {"field": "v", "type": "quantitative", "scale": {"domain": [-0.1, 1], "nice": false, "zero": false}, "axis": null}, "text": {"field": "rest"}}}
   ]},
  {"width": 384, "height": 235,
   "resolve": {"axis": {"x": "independent", "y": "independent"}},
   "layer": [
    {"data": {"name": "opt"}, "transform": [{"filter": "datum.s == 'b'"}],
     "mark": {"type": "line", "color": "#000000", "strokeWidth": 1.2, "interpolate": "monotone"},
     "encoding": {
      "x": {"field": "w", "type": "quantitative", "scale": {"domain": [0, 80], "nice": false, "zero": false}, "axis": {"orient": "bottom", "values": [0, 20, 40, 60, 80], "tickSize": 5, "labels": false, "title": null}},
      "y": {"field": "n", "type": "quantitative", "scale": {"domain": [-1, 15], "nice": false, "zero": false}, "axis": {"orient": "left", "values": [0, 5, 10], "tickSize": 5, "title": "n", "titleX": -36, "titleY": 119}}}},
    {"data": {"name": "opt"}, "transform": [{"filter": "datum.s == 'r'"}],
     "mark": {"type": "line", "color": "#ff0000", "strokeWidth": 1.2, "interpolate": "monotone"},
     "encoding": {
      "x": {"field": "w", "type": "quantitative", "scale": {"domain": [0, 80], "nice": false, "zero": false}, "axis": {"orient": "bottom", "values": [10, 30, 50, 70], "tickSize": 3, "labels": false, "title": null}},
      "y": {"field": "n", "type": "quantitative", "scale": {"domain": [-1, 15], "nice": false, "zero": false}, "axis": {"orient": "left", "values": [2.5, 7.5, 12.5], "tickSize": 3, "labels": false, "title": null}}}},
    {"data": {"name": "opt"}, "transform": [{"filter": "datum.s == 'b'"}],
     "mark": {"type": "line", "opacity": 0},
     "encoding": {
      "x": {"field": "w", "type": "quantitative", "scale": {"domain": [0, 80], "nice": false, "zero": false}, "axis": {"orient": "top", "values": [0, 20, 40, 60, 80], "tickSize": -5, "labels": false, "title": null}},
      "y": {"field": "n", "type": "quantitative", "scale": {"domain": [-1, 15], "nice": false, "zero": false}, "axis": {"orient": "right", "values": [0, 5, 10], "tickSize": -5, "labels": false, "title": null}}}},
    {"data": {"name": "opt"}, "transform": [{"filter": "datum.s == 'b'"}],
     "mark": {"type": "line", "opacity": 0},
     "encoding": {
      "x": {"field": "w", "type": "quantitative", "scale": {"domain": [0, 80], "nice": false, "zero": false}, "axis": {"orient": "top", "values": [10, 30, 50, 70], "tickSize": -3, "labels": false, "title": null}},
      "y": {"field": "n", "type": "quantitative", "scale": {"domain": [-1, 15], "nice": false, "zero": false}, "axis": {"orient": "right", "values": [2.5, 7.5, 12.5], "tickSize": -3, "labels": false, "title": null}}}}
   ]},
  {"width": 384, "height": 235,
   "resolve": {"axis": {"x": "independent", "y": "independent"}},
   "layer": [
    {"data": {"name": "opt"}, "transform": [{"filter": "datum.s == 'b'"}],
     "mark": {"type": "line", "color": "#000000", "strokeWidth": 1.2, "interpolate": "monotone"},
     "encoding": {
      "x": {"field": "w", "type": "quantitative", "scale": {"domain": [0, 80], "nice": false, "zero": false}, "axis": {"orient": "bottom", "values": [0, 20, 40, 60, 80], "tickSize": 5, "labels": true, "title": "Wavenumber (cm⁻¹)", "titleFontSize": 17, "titleX": 184, "titleY": 46}},
      "y": {"field": "k", "type": "quantitative", "scale": {"domain": [-2, 14], "nice": false, "zero": false}, "axis": {"orient": "left", "values": [0, 5, 10], "tickSize": 5, "title": "k", "titleX": -42, "titleY": 115}}}},
    {"data": {"name": "opt"}, "transform": [{"filter": "datum.s == 'r'"}],
     "mark": {"type": "line", "color": "#ff0000", "strokeWidth": 1.2, "interpolate": "monotone"},
     "encoding": {
      "x": {"field": "w", "type": "quantitative", "scale": {"domain": [0, 80], "nice": false, "zero": false}, "axis": {"orient": "bottom", "values": [10, 30, 50, 70], "tickSize": 3, "labels": false, "title": null}},
      "y": {"field": "k", "type": "quantitative", "scale": {"domain": [-2, 14], "nice": false, "zero": false}, "axis": {"orient": "left", "values": [2.5, 7.5, 12.5], "tickSize": 3, "labels": false, "title": null}}}},
    {"data": {"name": "opt"}, "transform": [{"filter": "datum.s == 'b'"}],
     "mark": {"type": "line", "opacity": 0},
     "encoding": {
      "x": {"field": "w", "type": "quantitative", "scale": {"domain": [0, 80], "nice": false, "zero": false}, "axis": {"orient": "top", "values": [0, 20, 40, 60, 80], "tickSize": -5, "labels": false, "title": null}},
      "y": {"field": "k", "type": "quantitative", "scale": {"domain": [-2, 14], "nice": false, "zero": false}, "axis": {"orient": "right", "values": [0, 5, 10], "tickSize": -5, "labels": false, "title": null}}}},
    {"data": {"name": "opt"}, "transform": [{"filter": "datum.s == 'b'"}],
     "mark": {"type": "line", "opacity": 0},
     "encoding": {
      "x": {"field": "w", "type": "quantitative", "scale": {"domain": [0, 80], "nice": false, "zero": false}, "axis": {"orient": "top", "values": [10, 30, 50, 70], "tickSize": -3, "labels": false, "title": null}},
      "y": {"field": "k", "type": "quantitative", "scale": {"domain": [-2, 14], "nice": false, "zero": false}, "axis": {"orient": "right", "values": [2.5, 7.5, 12.5], "tickSize": -3, "labels": false, "title": null}}}}
   ]}
 ], "spacing": 0, "bounds": "flush"}
]
}
